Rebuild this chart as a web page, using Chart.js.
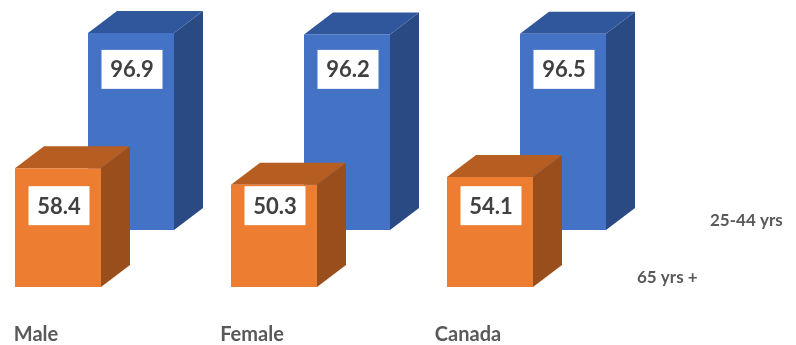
<!DOCTYPE html>
<html>
<head>
<meta charset="utf-8">
<script src="https://cdn.jsdelivr.net/npm/chart.js@4.4.0/dist/chart.umd.min.js"></script>
<style>
  html, body { margin: 0; padding: 0; background: #fff; }
  #wrap { width: 796px; height: 345px; position: relative; }
</style>
</head>
<body>
<div id="wrap"><canvas id="chart"></canvas></div>
<script>
// chart data
const categories = ['Male', 'Female', 'Canada'];
const seriesNames = ['25-44 yrs', '65 yrs +'];
const youngValues = [96.9, 96.2, 96.5];   // 25-44 yrs (back row)
const seniorValues = [58.4, 50.3, 54.1];  // 65 yrs + (front row)

// fake 3D look: depth step between rows and the box side/top skew
const ROW_DX = 73, ROW_DY = -57;
const SIDE_DX = 29, SIDE_DY = -22;

const box3d = {
    id: 'box3d',
    afterDatasetsDraw(chart) {
        const ctx = chart.ctx;
        const sets = chart.data.datasets;
        const xs = chart.scales.x, ys = chart.scales.y;
        // back row first
        const order = sets.map((d, i) => i).sort((a, b) => sets[b].depth - sets[a].depth);
        ctx.save();
        order.forEach(i => {
            const d = sets[i];
            const ox = d.depth * ROW_DX, oy = d.depth * ROW_DY;
            const bars = chart.getDatasetMeta(i).data;
            bars.forEach(bar => {
                const l = bar.x - bar.width / 2 + ox, r = bar.x + bar.width / 2 + ox;
                const t = bar.y + oy, b = bar.base + oy;
                // side face
                ctx.fillStyle = d.sideColor;
                ctx.beginPath();
                ctx.moveTo(r, t); ctx.lineTo(r + SIDE_DX, t + SIDE_DY);
                ctx.lineTo(r + SIDE_DX, b + SIDE_DY); ctx.lineTo(r, b);
                ctx.closePath(); ctx.fill();
                // top face
                ctx.fillStyle = d.topColor;
                ctx.beginPath();
                ctx.moveTo(l, t); ctx.lineTo(l + SIDE_DX, t + SIDE_DY);
                ctx.lineTo(r + SIDE_DX, t + SIDE_DY); ctx.lineTo(r, t);
                ctx.closePath(); ctx.fill();
                // front face
                ctx.fillStyle = d.frontColor;
                ctx.fillRect(l, t, r - l, b - t);
            });
            // value labels in white boxes
            bars.forEach((bar, j) => {
                const cx = bar.x + ox + 1;
                const cy = ys.getPixelForValue(d.labelAt) + oy;
                ctx.fillStyle = '#ffffff';
                ctx.fillRect(cx - 30.5, cy - 19.5, 61, 39);
                ctx.fillStyle = '#404040';
                ctx.font = 'bold 22px Lato';
                ctx.textAlign = 'center';
                ctx.textBaseline = 'middle';
                ctx.fillText(d.data[j].y.toFixed(1), cx, cy + 1);
            });
            // series name on the depth axis
            ctx.fillStyle = '#595959';
            ctx.font = 'bold 17px Lato';
            ctx.textAlign = 'left';
            ctx.textBaseline = 'alphabetic';
            ctx.fillText(d.label, xs.getPixelForValue(categories.length - 0.5) + 39 + ox,
                ys.getPixelForValue(0) - 4 + oy);
        });
        ctx.restore();
    }
};

const ctx = document.getElementById('chart').getContext('2d');
new Chart(ctx, {
    type: 'bar',
    data: {
        datasets: [{
            label: seriesNames[0],
            data: youngValues.map((v, i) => ({ x: i, y: v })),
            depth: 1,
            labelAt: 79,
            frontColor: '#4472C4',
            topColor: '#30569B',
            sideColor: '#2A4A84',
            backgroundColor: 'rgba(0,0,0,0)'
        }, {
            label: seriesNames[1],
            data: seniorValues.map((v, i) => ({ x: i, y: v })),
            depth: 0,
            labelAt: 40,
            frontColor: '#ED7D31',
            topColor: '#B65D21',
            sideColor: '#9A4E1C',
            backgroundColor: 'rgba(0,0,0,0)'
        }]
    },
    options: {
        responsive: true,
        maintainAspectRatio: false,
        animation: false,
        layout: { padding: { top: 43, left: 0, right: 0, bottom: 0 } },
        datasets: { bar: { grouped: false, barThickness: 86, borderWidth: 0 } },
        scales: {
            x: {
                type: 'linear',
                bounds: 'data',
                offset: false,
                min: -58 / 216,
                max: -58 / 216 + 796 / 216,
                afterBuildTicks: s => { s.ticks = categories.map((c, i) => ({ value: i })); },
                afterFit: s => { s.height = 58; },
                grid: { display: false, offset: false },
                border: { display: false },
                ticks: {
                    callback: v => categories[v],
                    labelOffset: -22,
                    padding: 28,
                    maxRotation: 0,
                    color: '#595959',
                    font: { family: 'Lato', size: 20, weight: 'bold' }
                }
            },
            y: { display: false, min: 0, max: 120 }
        },
        plugins: {
            legend: { display: false },
            tooltip: { enabled: false }
        }
    },
    plugins: [box3d]
});
</script>
</body>
</html>
